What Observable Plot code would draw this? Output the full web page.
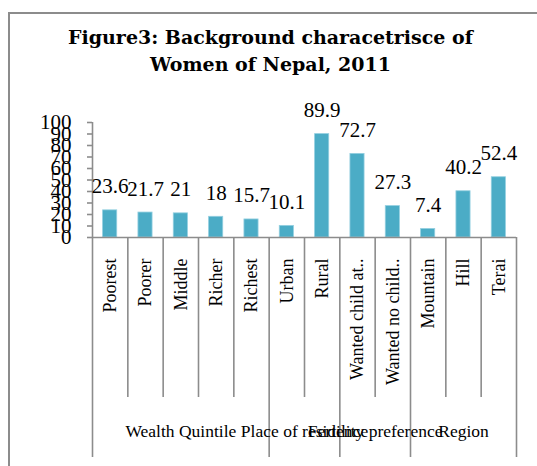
<!DOCTYPE html>
<html>
<head>
<meta charset="utf-8">
<script src="https://cdn.jsdelivr.net/npm/d3@7"></script>
<script src="https://cdn.jsdelivr.net/npm/@observablehq/plot@0.6"></script>
<style>
  html, body { margin: 0; padding: 0; background: #fff; overflow: hidden; }
  #wrap { position: relative; width: 537px; height: 466px; overflow: hidden; }
  #frame { position: absolute; left: 8px; top: 12px; width: 580px; height: 500px; border: 2px solid #8c8c8c; box-sizing: border-box; }
  #title { position: absolute; left: 0; top: 24px; width: 541px; text-align: center;
           font-family: "DejaVu Serif", serif; font-weight: bold; font-size: 19px; line-height: 27px; color: #000; }
  #chart { position: absolute; left: 0; top: 0; }
  #chart svg { overflow: visible; }
</style>
</head>
<body>
<div id="wrap">
  <div id="frame"></div>
  <div id="title">Figure3: Background characetrisce of<br>Women of Nepal, 2011</div>
  <div id="chart"></div>
</div>
<script>
const categories = ["Poorest", "Poorer", "Middle", "Richer", "Richest", "Urban", "Rural",
  "Wanted child at..", "Wanted no child..", "Mountain", "Hill", "Terai"];
const values = [23.6, 21.7, 21, 18, 15.7, 10.1, 89.9, 72.7, 27.3, 7.4, 40.2, 52.4];
const groups = ["Wealth Quintile", "Place of residence", "Fertility preference", "Region"];
const groupSizes = [5, 2, 2, 3];
const yTicks = [0, 10, 20, 30, 40, 50, 60, 70, 80, 90, 100];

const rows = categories.map((c, i) => ({c, v: values[i], i}));
const bounds = [0];
groupSizes.forEach(s => bounds.push(bounds[bounds.length - 1] + s));
const groupRows = groups.map((g, k) => ({g, mid: (bounds[k] + bounds[k + 1]) / 2}));
const inner = d3.range(categories.length + 1).filter(i => !bounds.includes(i));

const lineColor = "#8c8c8c";

const chart = Plot.plot({
  width: 537,
  height: 466,
  marginLeft: 92,
  marginRight: 21,
  marginTop: 122,
  marginBottom: 229,
  style: {fontFamily: "Liberation Serif, Times New Roman, serif", fontSize: "21px", color: "#000", background: "transparent"},
  x: {domain: [0, categories.length], axis: null},
  y: {domain: [0, 100], axis: null},
  marks: [
    Plot.rectY(rows, {x1: d => d.i + 0.3, x2: d => d.i + 0.7, y: "v", fill: "#4bacc6", stroke: "#93cfe0", strokeWidth: 0.8}),
    Plot.ruleX([0], {stroke: lineColor, strokeWidth: 1.6}),
    Plot.ruleY([0], {stroke: lineColor, strokeWidth: 1.6}),
    Plot.ruleX(inner, {x: d => d, y1: () => 0, y2: () => 0, insetBottom: -160, stroke: lineColor, strokeWidth: 1.6}),
    Plot.ruleX(bounds, {x: d => d, y1: () => 0, y2: () => 0, insetBottom: -220, stroke: lineColor, strokeWidth: 1.6}),
    Plot.axisY({ticks: yTicks, tickSize: 5, tickPadding: 16, stroke: lineColor, strokeWidth: 1.6, fontSize: 21, fill: "#000", label: null, tickFormat: d => String(d)}),
    Plot.text(rows, {x: d => d.i + 0.5, y: "v", text: d => String(d.v), dy: -17, lineAnchor: "bottom", fontSize: 21, fill: "#000"}),
    Plot.text(rows, {x: d => d.i + 0.5, y: () => 0, text: "c", rotate: -90, textAnchor: "end", lineAnchor: "middle", dy: 21, fontSize: 18, fill: "#000"}),
    Plot.text(groupRows, {x: "mid", y: () => 0, text: "g", dy: 194, lineAnchor: "middle", fontSize: 17.5, fill: "#000"})
  ]
});
document.getElementById("chart").appendChild(chart);
</script>
</body>
</html>
